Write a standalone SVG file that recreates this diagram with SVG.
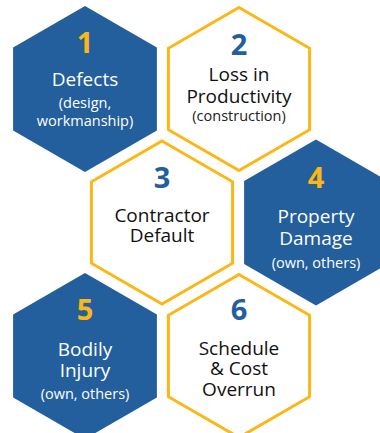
<svg xmlns="http://www.w3.org/2000/svg" xmlns:xlink="http://www.w3.org/1999/xlink" width="380" height="433" viewBox="0 0 380 433">
<defs>
<style>
.bh{fill:#235e9d;}
.wh{fill:#ffffff;stroke:#fbb715;stroke-width:3;stroke-linejoin:miter;}
text{font-family:"Open Sans","Noto Sans",sans-serif;text-anchor:middle;}
.num{font-size:29px;font-weight:bold;}
.ny{fill:#fbb715;}
.nb{fill:#235e9d;}
.tw{fill:#ffffff;font-size:19px;}
.tk{fill:#111111;font-size:19px;}
.sw{fill:#ffffff;font-size:14.5px;}
.sk{fill:#222222;font-size:14.5px;}
</style>
<polygon id="hb" points="0,-83 71.9,-41.5 71.9,41.5 0,83 -71.9,41.5 -71.9,-41.5"/>
<polygon id="hw" points="0,-81.5 70.6,-40.75 70.6,40.75 0,81.5 -70.6,40.75 -70.6,-40.75"/>
</defs>
<rect width="380" height="433" fill="#ffffff"/>
<g id="connectors"></g>
<g id="node1">
<use xlink:href="#hb" class="bh" x="85" y="89"/>
<text class="num ny" x="85" y="53">1</text>
<text class="tw" x="85" y="86">Defects</text>
<text class="sw" x="85" y="108">(design,</text>
<text class="sw" x="85" y="126">workmanship)</text>
</g>
<g id="node2">
<use xlink:href="#hw" class="wh" x="239" y="89"/>
<text class="num nb" x="239" y="55">2</text>
<text class="tk" x="239" y="81">Loss in</text>
<text class="tk" x="239" y="103">Productivity</text>
<text class="sk" x="239" y="121">(construction)</text>
</g>
<g id="node3">
<use xlink:href="#hw" class="wh" x="162" y="222.5"/>
<text class="num nb" x="162" y="188">3</text>
<text class="tk" x="162" y="222">Contractor</text>
<text class="tk" x="162" y="242">Default</text>
</g>
<g id="node4">
<use xlink:href="#hb" class="bh" x="316" y="222.5"/>
<text class="num ny" x="316" y="188">4</text>
<text class="tw" x="316" y="223">Property</text>
<text class="tw" x="316" y="245">Damage</text>
<text class="sw" x="316" y="268">(own, others)</text>
</g>
<g id="node5">
<use xlink:href="#hb" class="bh" x="85" y="356"/>
<text class="num ny" x="85" y="320">5</text>
<text class="tw" x="85" y="356">Bodily</text>
<text class="tw" x="85" y="377">Injury</text>
<text class="sw" x="85" y="399">(own, others)</text>
</g>
<g id="node6">
<use xlink:href="#hw" class="wh" x="239" y="356"/>
<text class="num nb" x="239" y="320">6</text>
<text class="tk" x="239" y="355">Schedule</text>
<text class="tk" x="239" y="375">&amp; Cost</text>
<text class="tk" x="239" y="396">Overrun</text>
</g>
</svg>
